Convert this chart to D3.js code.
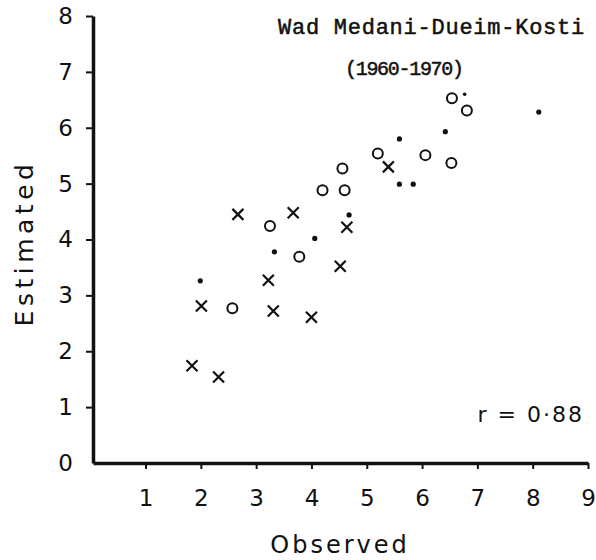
<!DOCTYPE html>
<html>
<head>
<meta charset="utf-8">
<script src="https://cdn.jsdelivr.net/npm/d3@7"></script>
<style>
  html, body { margin: 0; padding: 0; background: #fff; }
  svg { display: block; }
</style>
</head>
<body>
<svg id="chart" width="596" height="560"></svg>
<script>
// ---- data ----
const xTicks = [1, 2, 3, 4, 5, 6, 7, 8, 9];
const yTicks = [0, 1, 2, 3, 4, 5, 6, 7, 8];

const crossObs = [1.84, 2.32, 2.01, 2.67, 3.22, 3.31, 3.67, 4.00, 4.52, 4.64, 5.39];
const crossEst = [1.74, 1.54, 2.81, 4.45, 3.27, 2.72, 4.48, 2.61, 3.52, 4.22, 5.30];

const circleObs = [2.57, 3.25, 3.78, 4.20, 4.60, 4.56, 5.20, 6.06, 6.53, 6.54, 6.81];
const circleEst = [2.77, 4.24, 3.69, 4.88, 4.88, 5.27, 5.54, 5.51, 5.37, 6.53, 6.31];

const dotObs = [1.99, 3.33, 4.06, 4.68, 5.59, 5.59, 5.84, 6.42, 8.11, 6.77];
const dotEst = [3.26, 3.78, 4.02, 4.44, 5.80, 4.99, 4.99, 5.93, 6.28, 6.60];

const titleLines = ["Wad Medani-Dueim-Kosti", "(1960-1970)"];
const xLabel = "Observed";
const yLabel = "Estimated";
const rLabel = "r = 0\u00B788";

// ---- layout ----
const svg = d3.select("#chart");
const x = d3.scaleLinear().domain([0.05, 9]).range([93, 588]);
const y = d3.scaleLinear().domain([0, 8]).range([463, 16]);
const ink = "#111";
const sansFont = "DejaVu Sans, Liberation Sans, sans-serif";

// axes
const xAxis = d3.axisBottom(x).tickValues(xTicks).tickSize(6).tickPadding(21).tickSizeOuter(0);
const gx = svg.append("g").attr("transform", `translate(0,${y(0)})`).call(xAxis);
gx.select(".domain").attr("stroke", ink).attr("stroke-width", 3.5);
gx.selectAll(".tick line").attr("stroke", ink).attr("stroke-width", 2);
gx.selectAll(".tick text").attr("fill", ink).attr("font-family", sansFont).attr("font-size", 23);

const yAxis = d3.axisLeft(y).tickValues(yTicks).tickSize(7).tickPadding(13).tickSizeOuter(0);
const gy = svg.append("g").attr("transform", `translate(${x(0.05)},0)`).call(yAxis);
gy.select(".domain").attr("stroke", ink).attr("stroke-width", 3.5);
gy.selectAll(".tick line").attr("stroke", ink).attr("stroke-width", 2)
  .filter(d => d === 0).remove();
gy.selectAll(".tick text").attr("fill", ink).attr("font-family", sansFont).attr("font-size", 23);

// axis titles
svg.append("text")
  .attr("x", 340).attr("y", 553)
  .attr("text-anchor", "middle")
  .attr("font-family", sansFont).attr("font-size", 24)
  .attr("letter-spacing", 3)
  .attr("fill", ink)
  .text(xLabel);

svg.append("text")
  .attr("transform", "translate(33,243) rotate(-90)")
  .attr("text-anchor", "middle")
  .attr("font-family", sansFont).attr("font-size", 25)
  .attr("letter-spacing", 4.5)
  .attr("fill", ink)
  .text(yLabel);

// title
const monoFont = "Liberation Mono, Courier New, monospace";
svg.append("text")
  .attr("x", 278).attr("y", 34)
  .attr("font-family", monoFont).attr("font-size", 22)
  .attr("letter-spacing", 0.75)
  .attr("fill", ink).attr("stroke", ink).attr("stroke-width", 0.5)
  .text(titleLines[0]);
svg.append("text")
  .attr("x", 345).attr("y", 75)
  .attr("font-family", monoFont).attr("font-size", 20)
  .attr("letter-spacing", -1.3)
  .attr("fill", ink).attr("stroke", ink).attr("stroke-width", 0.5)
  .text(titleLines[1]);

// r label
svg.append("text")
  .attr("x", 584).attr("y", 422)
  .attr("text-anchor", "end")
  .attr("font-family", sansFont).attr("font-size", 22)
  .attr("letter-spacing", 2)
  .attr("fill", ink)
  .text(rLabel);

// markers
const crosses = d3.zip(crossObs, crossEst);
const circles = d3.zip(circleObs, circleEst);
const dots = d3.zip(dotObs, dotEst);
const h = 5.5;

svg.append("g").selectAll("path").data(crosses).join("path")
  .attr("transform", d => `translate(${x(d[0])},${y(d[1])})`)
  .attr("d", `M${-h},${-h}L${h},${h}M${-h},${h}L${h},${-h}`)
  .attr("stroke", ink).attr("stroke-width", 2.2).attr("fill", "none");

svg.append("g").selectAll("circle").data(circles).join("circle")
  .attr("cx", d => x(d[0])).attr("cy", d => y(d[1]))
  .attr("r", 5)
  .attr("stroke", ink).attr("stroke-width", 2).attr("fill", "none");

svg.append("g").selectAll("circle").data(dots).join("circle")
  .attr("cx", d => x(d[0])).attr("cy", d => y(d[1]))
  .attr("r", (d, i) => i === dots.length - 1 ? 1.8 : 2.6)
  .attr("fill", ink);
</script>
</body>
</html>
